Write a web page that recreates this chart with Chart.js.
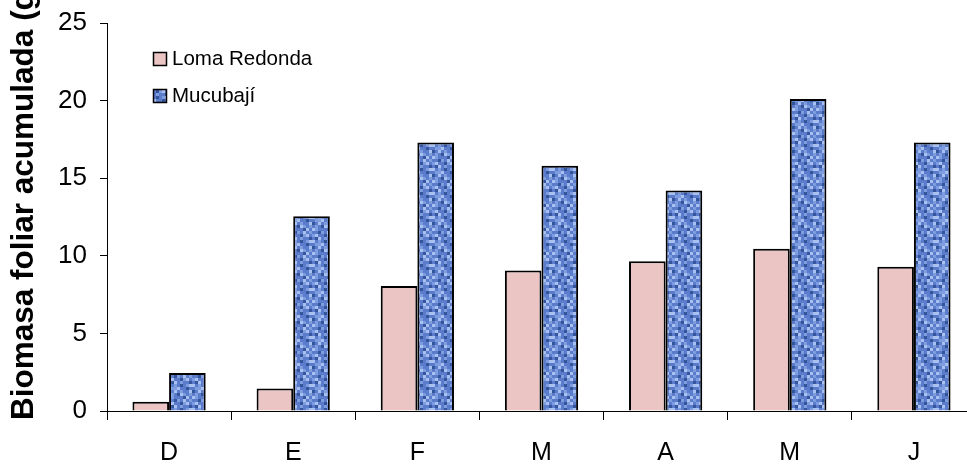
<!DOCTYPE html>
<html lang="es">
  <head>
    <meta charset="UTF-8" />
    <title>Biomasa foliar acumulada</title>
    <script src="https://cdn.jsdelivr.net/npm/chart.js"></script>
    <style>
      body { margin: 0; background: #fff; }
      .recorte { width: 967px; height: 466px; overflow: hidden; }
      .grafico { width: 980px; height: 466px; position: relative; }
    </style>
  </head>
  <body>
    <div class="recorte">
      <div class="grafico">
        <canvas id="myChart"></canvas>
      </div>
    </div>
  </body>
</html>
<script>
  // datos
  var meses = ["D", "E", "F", "M", "A", "M", "J"];
  var lomaRedonda = [0.6, 1.45, 8.05, 9.05, 9.65, 10.45, 9.3];
  var mucubaji = [2.45, 12.55, 17.3, 15.8, 14.2, 20.1, 17.3];
  var ticksY = [0, 5, 10, 15, 20, 25];
  var tituloY = "Biomasa foliar acumulada (g)";

  var fuente = "'Liberation Sans', Arial, sans-serif";
  var rosa = "#ebc4c4";

  // textura azul tipo trama (celdas de 3px)
  function tramaAzul() {
    var c = document.createElement("canvas");
    c.width = 24;
    c.height = 24;
    var g = c.getContext("2d");
    var filas = [
      "bmlmdmlb",
      "mllbmmdm",
      "dmbmlmmb",
      "mlmdblml",
      "blmmmdbm",
      "mmdlmbml",
      "lbmmdlbm",
      "mdbmlmmd",
    ];
    var colores = { b: "#a9c1f0", l: "#7d9de0", m: "#5a7ccb", d: "#34549c" };
    for (var y = 0; y < 8; y++) {
      for (var x = 0; x < 8; x++) {
        g.fillStyle = colores[filas[y][x]];
        g.fillRect(x * 3, y * 3, 3, 3);
      }
    }
    return g.createPattern(c, "repeat");
  }

  const ctx = document.getElementById("myChart");
  var azul = tramaAzul();

  // leyenda dentro del area y titulo del eje (cortado arriba como en el original)
  var extras = {
    id: "extras",
    afterDraw: function (chart) {
      var g = chart.ctx;
      g.save();
      var filas = [
        { y: 52, ds: chart.data.datasets[0] },
        { y: 89, ds: chart.data.datasets[1] },
      ];
      filas.forEach(function (f) {
        g.fillStyle = f.ds.backgroundColor;
        g.fillRect(153, f.y, 14, 14);
        g.strokeStyle = "#000";
        g.lineWidth = 1.5;
        g.strokeRect(153.5, f.y + 0.5, 13, 13);
        g.fillStyle = "#000";
        g.font = "20.5px " + fuente;
        g.textBaseline = "alphabetic";
        g.textAlign = "left";
        g.fillText(f.ds.label, 172, f.y + 13);
      });
      g.translate(24, 420);
      g.rotate(-Math.PI / 2);
      g.font = "bold 31.5px " + fuente;
      g.textAlign = "left";
      g.textBaseline = "middle";
      g.fillText(tituloY, 0, 0);
      g.restore();
    },
  };

  new Chart(ctx, {
    type: "bar",
    data: {
      labels: meses,
      datasets: [
        {
          label: "Loma Redonda",
          data: lomaRedonda,
          backgroundColor: rosa,
          borderColor: "#000",
          borderWidth: 2,
          borderSkipped: "bottom",
        },
        {
          label: "Mucubají",
          data: mucubaji,
          backgroundColor: azul,
          borderColor: "#000",
          borderWidth: 2,
          borderSkipped: "bottom",
        },
      ],
    },
    plugins: [extras],
    options: {
      responsive: true,
      maintainAspectRatio: false,
      animation: false,
      layout: { padding: { top: 23, right: 4, left: 0, bottom: 0 } },
      datasets: { bar: { categoryPercentage: 0.59, barPercentage: 1 } },
      plugins: { legend: { display: false }, tooltip: { enabled: false } },
      scales: {
        x: {
          grid: {
            offset: true,
            drawOnChartArea: false,
            tickLength: 9,
            color: "#000",
          },
          border: { color: "#000", width: 1 },
          ticks: {
            color: "#000",
            font: { family: fuente, size: 25 },
            padding: 18,
            maxRotation: 0,
            autoSkip: false,
          },
          afterFit: function (s) {
            s.height = 55;
            s.paddingLeft = 0;
            s.paddingRight = 0;
          },
        },
        y: {
          min: 0,
          max: 25,
          afterBuildTicks: function (s) {
            s.ticks = ticksY.map(function (v) {
              return { value: v };
            });
          },
          grid: { drawOnChartArea: false, tickLength: 7, color: "#000" },
          border: { color: "#000", width: 1 },
          ticks: {
            color: "#000",
            font: { family: fuente, size: 26 },
            padding: 13,
          },
          afterFit: function (s) {
            s.width = 107;
            s.paddingTop = 0;
            s.paddingBottom = 0;
          },
        },
      },
    },
  });
</script>
